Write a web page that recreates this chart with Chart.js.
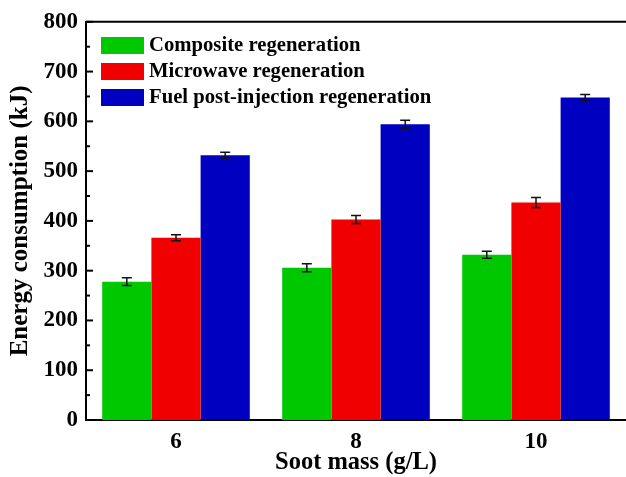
<!DOCTYPE html>
<html>
<head>
<meta charset="utf-8">
<script src="https://cdn.jsdelivr.net/npm/chart.js@4.4.0/dist/chart.umd.min.js"></script>
<style>
  html, body { margin: 0; padding: 0; background: #fff; overflow: hidden; }
  #wrap { width: 626px; height: 477px; }
</style>
</head>
<body>
<div id="wrap"><canvas id="bar-chart" width="626" height="477"></canvas></div>
<script>
const sootMass = ["6", "8", "10"];
const composite = [278, 306, 332];
const microwave = [366, 403, 437];
const fuelPost = [532, 594, 648];
const compositeErr = [8, 8, 7];
const microwaveErr = [6, 8, 10];
const fuelPostErr = [6, 8, 6];
const seriesNames = ["Composite regeneration", "Microwave regeneration", "Fuel post-injection regeneration"];

const serif = "'Liberation Serif', 'Times New Roman', serif";

// error bars, inward ticks, top frame line and the boxed legend
const extras = {
  id: 'extras',
  afterDatasetsDraw(chart) {
    const ctx = chart.ctx;
    const y = chart.scales.y;
    const area = chart.chartArea;
    const errs = [compositeErr, microwaveErr, fuelPostErr];
    ctx.save();
    ctx.strokeStyle = '#111';
    ctx.lineWidth = 1.5;
    chart.data.datasets.forEach((ds, i) => {
      chart.getDatasetMeta(i).data.forEach((bar, j) => {
        const v = ds.data[j], e = errs[i][j];
        const yt = y.getPixelForValue(v + e), yb = y.getPixelForValue(v - e);
        ctx.beginPath();
        ctx.moveTo(bar.x, yt); ctx.lineTo(bar.x, yb);
        ctx.moveTo(bar.x - 5, yt); ctx.lineTo(bar.x + 5, yt);
        ctx.moveTo(bar.x - 5, yb); ctx.lineTo(bar.x + 5, yb);
        ctx.stroke();
      });
    });
    // y ticks pointing inward
    ctx.strokeStyle = '#000';
    ctx.lineWidth = 2;
    for (let v = 0; v <= 800; v += 50) {
      const py = y.getPixelForValue(v);
      const len = v % 100 === 0 ? 7 : 4;
      ctx.beginPath();
      ctx.moveTo(area.left, py); ctx.lineTo(area.left + len, py);
      ctx.stroke();
    }
    // top frame line
    ctx.beginPath();
    ctx.moveTo(area.left, area.top); ctx.lineTo(area.right, area.top);
    ctx.stroke();
    // legend
    ctx.font = "bold 20.7px " + serif;
    ctx.textBaseline = 'middle';
    chart.data.datasets.forEach((ds, i) => {
      const ly = 45 + i * 26;
      ctx.fillStyle = ds.backgroundColor;
      ctx.fillRect(101, ly - 8, 43, 17);
      ctx.fillStyle = '#000';
      ctx.fillText(ds.label, 149, ly + 1);
    });
    ctx.restore();
  }
};

new Chart(document.getElementById("bar-chart"), {
  type: 'bar',
  data: {
    labels: sootMass,
    datasets: [
      { label: seriesNames[0], data: composite, backgroundColor: "#00c800" },
      { label: seriesNames[1], data: microwave, backgroundColor: "#f00000" },
      { label: seriesNames[2], data: fuelPost, backgroundColor: "#0000c0" }
    ]
  },
  options: {
    responsive: false,
    animation: false,
    categoryPercentage: 0.82,
    barPercentage: 1.0,
    layout: { padding: { top: 20, right: 0, left: 0, bottom: 0 } },
    plugins: {
      legend: { display: false },
      tooltip: { enabled: false }
    },
    scales: {
      x: {
        grid: { display: false, drawTicks: false },
        border: { color: '#000', width: 2 },
        ticks: { color: '#000', font: { family: serif, weight: 'bold', size: 23 }, padding: 8 },
        title: { display: true, text: 'Soot mass (g/L)', color: '#000', font: { family: serif, weight: 'bold', size: 24.5 }, padding: { top: -7, bottom: 0 } },
        afterFit: s => { s.height = 57; }
      },
      y: {
        min: 0, max: 800,
        grid: { display: false, drawTicks: false },
        border: { color: '#000', width: 2 },
        ticks: { stepSize: 100, color: '#000', font: { family: serif, weight: 'bold', size: 23 }, padding: 8 },
        title: { display: true, text: 'Energy consumption (kJ)', color: '#000', font: { family: serif, weight: 'bold', size: 25 }, padding: { top: 6, bottom: 0 } },
        afterFit: s => { s.width = 86; }
      }
    }
  },
  plugins: [extras]
});
</script>
</body>
</html>
